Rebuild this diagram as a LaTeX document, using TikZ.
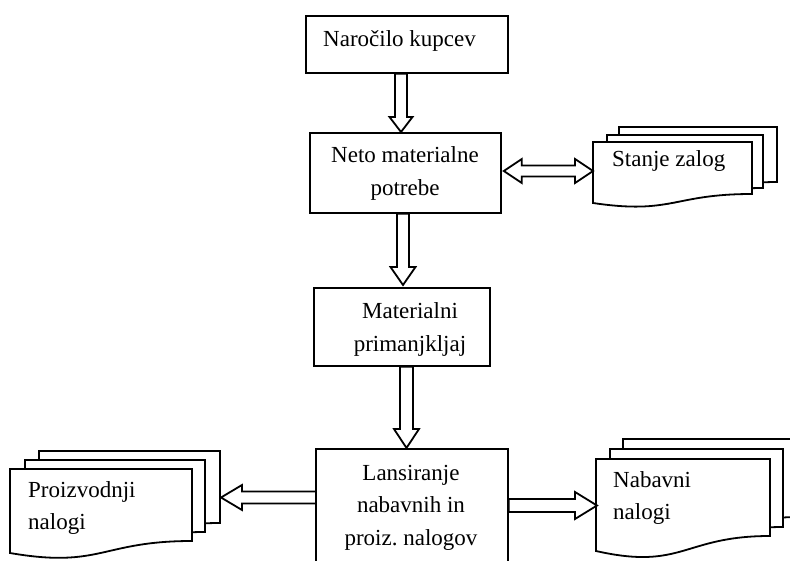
\documentclass[tikz,border=0pt]{standalone}
\usepackage{fontspec}
\setmainfont{Liberation Serif}
\usetikzlibrary{calc}
\tikzset{
  box/.style={draw, line width=1.8pt, fill=white, inner sep=0pt, anchor=north west},
  blk/.style={draw, line width=1.8pt, fill=white, line join=miter},
  sheet/.style={draw, line width=1.8pt, fill=white},
  txt/.style={inner sep=0pt, font=\fontsize{23}{32.5}\selectfont},
}
% vertical block arrow: #1 x, #2 start anchor, #3 end anchor, #4 shaft half, #5 head half, #6 head length
\newcommand\blkvert[6]{%
  \draw[blk] let \p1=(#2), \p2=(#3) in
   (#1pt-#4pt,\y1) -- (#1pt+#4pt,\y1) -- (#1pt+#4pt,\y2+#6pt) -- (#1pt+#5pt,\y2+#6pt)
   -- (#1pt,\y2) -- (#1pt-#5pt,\y2+#6pt) -- (#1pt-#4pt,\y2+#6pt) -- cycle;}
% horizontal block arrow: #1 y (pixel, down), #2 start, #3 tip, #4 shaft half, #5 head half, #6 head length (signed)
\newcommand\blkhorz[6]{%
  \draw[blk] let \p1=(#2), \p2=(#3) in
   (\x1,-#1pt+#4pt) -- (\x2-#6pt,-#1pt+#4pt) -- (\x2-#6pt,-#1pt+#5pt) -- (\x2,-#1pt)
   -- (\x2-#6pt,-#1pt-#5pt) -- (\x2-#6pt,-#1pt-#4pt) -- (\x1,-#1pt-#4pt) -- cycle;}
% document sheet: #1 x0, #2 top, #3 x1, #4 right bottom, #5 left bottom
\newcommand\docsheet[5]{%
  \draw[sheet] (#1,#2) -- (#3,#2) -- (#3,#4)
   .. controls ({(#1+#3)/2},#4) and ({(#1+#3)/2},{#4+2.31*(#5-#4)}) .. (#1,#5) -- cycle;}
\begin{document}
\begin{tikzpicture}[x=1pt,y=-1pt]
\clip (0,0) rectangle (790,561);
\fill[white] (0,0) rectangle (790,561);

% boxes
\node[box, minimum width=202pt, minimum height=57pt] (bA) at (305,15) {};
\node[box, minimum width=191pt, minimum height=80pt] (bB) at (309,132) {};
\node[box, minimum width=176pt, minimum height=78pt] (bC) at (313,287) {};
\node[box, minimum width=192pt, minimum height=160pt] (bD) at (315,448) {};

% document stacks
\docsheet{619}{127}{777}{182}{196}
\docsheet{607}{135}{763}{188}{200}
\docsheet{593}{142}{752}{194}{203}
\coordinate (sS) at (593,171);

\docsheet{39}{451}{220}{523}{538}
\docsheet{25}{460}{205}{532}{546}
\docsheet{10}{469}{192}{541}{553}
\coordinate (sP) at (221,498);

\docsheet{623}{439}{800}{517}{534}
\docsheet{610}{449}{783}{527}{543}
\docsheet{596}{459}{770}{536}{551}
\coordinate (sN) at (597,506);

% block arrows
\blkvert{401}{bA.south}{bB.north}{6}{11.5}{15}
\blkvert{403}{bB.south}{[yshift=2pt]bC.north}{6}{12.5}{18}
\blkvert{406.5}{bC.south}{bD.north}{6.5}{12.5}{19}

\draw[blk] let \p1=(bB.east), \p2=(sS) in
  (\x1+2pt,-171pt) -- (\x1+20pt,-159pt) -- (\x1+20pt,-165.5pt) -- (\x2-18pt,-165.5pt)
  -- (\x2-18pt,-159pt) -- (\x2,-171pt) -- (\x2-18pt,-183pt) -- (\x2-18pt,-176.5pt)
  -- (\x1+20pt,-176.5pt) -- (\x1+20pt,-183pt) -- cycle;

\blkhorz{497.5}{[xshift=1pt]bD.west |- 0,497.5}{sP}{6}{12.5}{-21}
\blkhorz{505.5}{bD.east |- 0,505.5}{sN}{6.5}{13.5}{22}

% texts
\node[txt, anchor=base west] (tA) at (323,47) {Naročilo kupcev};
\node[txt, anchor=base] (tB) at (405,163) {\begin{tabular}[t]{@{}c@{}}Neto materialne\\potrebe\end{tabular}};
\node[txt, anchor=base] (tC) at (410,319) {\begin{tabular}[t]{@{}c@{}}Materialni\\primanjkljaj\end{tabular}};
\node[txt, anchor=base] (tD) at (411,480) {\begin{tabular}[t]{@{}c@{}}Lansiranje\\nabavnih in\\proiz.\ nalogov\end{tabular}};
\node[txt, anchor=base west] (tE) at (612,167) {Stanje zalog};
\node[txt, anchor=base west] (tF) at (28,497) {\begin{tabular}[t]{@{}l@{}}Proizvodnji\\nalogi\end{tabular}};
\node[txt, anchor=base west] (tG) at (613,487) {\begin{tabular}[t]{@{}l@{}}Nabavni\\nalogi\end{tabular}};
\end{tikzpicture}
\end{document}
